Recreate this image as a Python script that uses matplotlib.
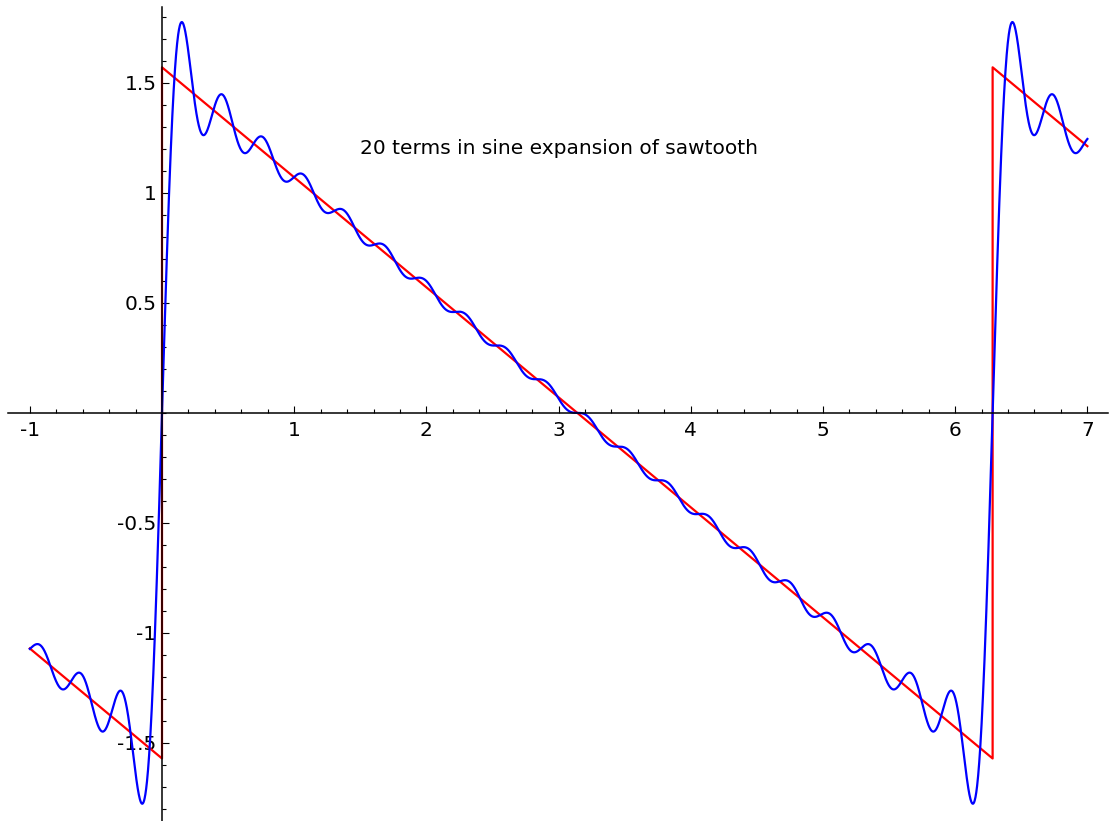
import numpy as np
import matplotlib
matplotlib.use("Agg")
import matplotlib.pyplot as plt
from matplotlib.ticker import FixedLocator, MultipleLocator

plt.rcParams['axes.unicode_minus'] = False

# sine coefficients b_n of the first 20 terms (sawtooth (pi - x)/2)
harmonics = list(range(1, 21))
coefs = [1.0, 1/2, 1/3, 1/4, 1/5, 1/6, 1/7, 1/8, 1/9, 1/10,
         1/11, 1/12, 1/13, 1/14, 1/15, 1/16, 1/17, 1/18, 1/19, 1/20]

# sawtooth vertices
saw_x = [-1.0, 0.0, 0.0, 6.2832, 6.2832, 7.0]
saw_y = [-1.0708, -1.5708, 1.5708, -1.5708, 1.5708, 1.2124]

xticks = [-1, 1, 2, 3, 4, 5, 6, 7]
yticks = [-1.5, -1, -0.5, 0.5, 1, 1.5]
ytick_labels = ['-1.5', '-1', '-0.5', '0.5', '1', '1.5']

x = np.linspace(-1, 7, 4000)
series = np.zeros_like(x)
for n, b in zip(harmonics, coefs):
    series += b * np.sin(n * x)

fig = plt.figure(figsize=(11.1, 8.21), dpi=100)
ax = fig.add_axes([8/1110, 0, 1100/1110, 814/821])

ax.plot(saw_x, saw_y, color='red', lw=1.6, zorder=3)
ax.plot(x, series, color='blue', lw=1.6, zorder=4)

ax.text(3, 1.2, '20 terms in sine expansion of sawtooth', fontsize=14.5,
        ha='center', va='center')

ax.set_xlim(-1.165, 7.156)
ax.set_ylim(-1.855, 1.845)

for s in ['top', 'right']:
    ax.spines[s].set_visible(False)
ax.spines['left'].set_position(('data', 0))
ax.spines['bottom'].set_position(('data', 0))
for s in ['left', 'bottom']:
    ax.spines[s].set_linewidth(1.1)
    ax.spines[s].set_zorder(5)

ax.xaxis.set_major_locator(FixedLocator(xticks))
ax.set_xticklabels([str(t) for t in xticks])
ax.xaxis.set_minor_locator(MultipleLocator(0.2))
ax.yaxis.set_major_locator(FixedLocator(yticks))
ax.set_yticklabels(ytick_labels)
ax.yaxis.set_minor_locator(MultipleLocator(0.1))

ax.tick_params(which='both', direction='in', labelsize=14.5, width=0.8)
ax.tick_params(which='major', length=5)
ax.tick_params(which='minor', length=3)
ax.tick_params(axis='x', pad=6)
ax.tick_params(axis='y', pad=4)

fig.savefig('out.png', dpi=100)
